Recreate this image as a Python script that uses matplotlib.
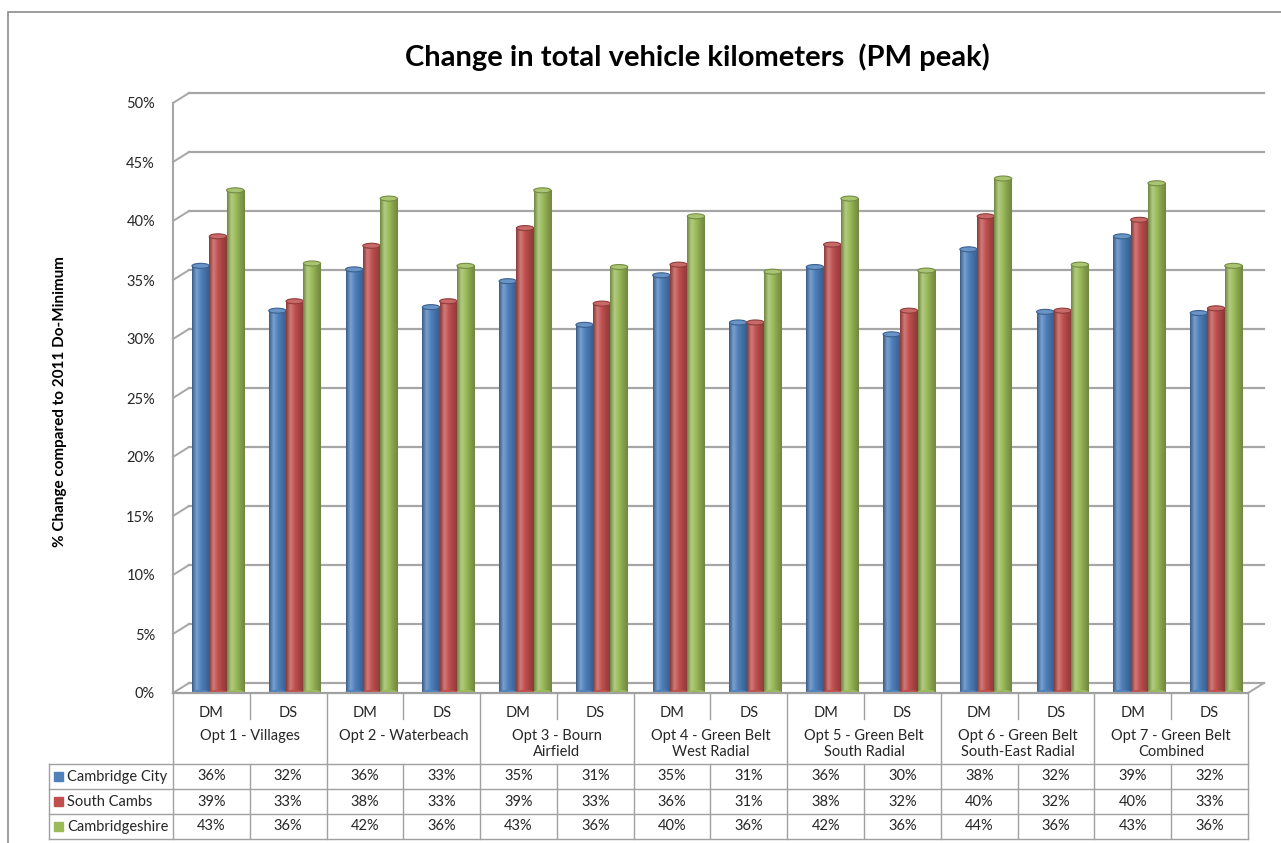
import numpy as np
import matplotlib
matplotlib.use("Agg")
import matplotlib.pyplot as plt
from matplotlib.colors import LinearSegmentedColormap, to_rgb
from matplotlib.patches import Ellipse, Rectangle

# ---- data ----
options = ["Opt 1 - Villages", "Opt 2 - Waterbeach", "Opt 3 - Bourn\nAirfield",
           "Opt 4 - Green Belt\nWest Radial", "Opt 5 - Green Belt\nSouth Radial",
           "Opt 6 - Green Belt\nSouth-East Radial", "Opt 7 - Green Belt\nCombined"]
scenarios = ["DM", "DS"]
series_names = ["Cambridge City", "South Cambs", "Cambridgeshire"]
cambridge_city = [36.2, 32.4, 35.9, 32.7, 34.9, 31.2, 35.4, 31.4, 36.1, 30.4, 37.6, 32.3, 38.7, 32.2]
south_cambs = [38.7, 33.2, 37.9, 33.2, 39.4, 33.0, 36.3, 31.4, 38.0, 32.4, 40.4, 32.4, 40.1, 32.6]
cambridgeshire = [42.6, 36.4, 41.9, 36.2, 42.6, 36.1, 40.4, 35.7, 41.9, 35.8, 43.6, 36.3, 43.2, 36.2]
colors = ["#4F81BD", "#C0504D", "#9BBB59"]
yticks = list(range(0, 51, 5))

plt.rcParams["font.family"] = ["Lato", "DejaVu Sans"]
W, H = 1281, 843
TXT = "#262626"
GRID = "#A6A6A6"


def px_rect(l, t, r, b):
    return [l / W, 1 - b / H, (r - l) / W, (b - t) / H]


def shade(base):
    c = np.array(to_rgb(base))
    dark = c * 0.72
    light = np.clip(c + (1 - c) * 0.25, 0, 1)
    return LinearSegmentedColormap.from_list("cyl", [dark, light, c, c * 0.85, dark])


fig = plt.figure(figsize=(W / 100, H / 100), dpi=100)

# outer frame
fig.add_artist(Rectangle((8 / W, -0.1), 1.2, 1 - 12 / H + 0.1, transform=fig.transFigure,
                         fill=False, edgecolor="#8C8C8C", lw=1.2))

fig.text(697 / W, 1 - 57 / H, "Change in total vehicle kilometers  (PM peak)",
         ha="center", va="center", fontsize=21, fontweight="bold", color="black")
fig.text(60 / W, 1 - 402 / H, "% Change compared to 2011 Do-Minimum", rotation=90,
         ha="center", va="center", fontsize=11, fontweight="bold", color="black")

ax = fig.add_axes(px_rect(173, 103, 1248, 693))
ncol = len(options) * len(scenarios)
ax.set_xlim(0, ncol)
ax.set_ylim(0, 50)
for s in ["top", "right", "bottom"]:
    ax.spines[s].set_visible(False)
ax.spines["left"].set_color(GRID)
ax.spines["left"].set_linewidth(1.5)
ax.set_xticks([])
ax.set_yticks(yticks)
ax.set_yticklabels([f"{v}%" for v in yticks], fontsize=10.5, color=TXT)
ax.tick_params(axis="y", length=0, pad=13)

# back wall (3-D look)
dx = 16 / 76.8
dy = 10 / 11.8
for v in yticks:
    ax.plot([dx, ncol + dx], [v + dy, v + dy], color=GRID, lw=1.6, clip_on=False, zorder=1)
    ax.plot([0, dx], [v, v + dy], color=GRID, lw=1.4, clip_on=False, zorder=1)
ax.plot([ncol, ncol + dx], [0, dy], color=GRID, lw=1.4, clip_on=False, zorder=1)

bw = 17.3 / 76.8
shift = 0.085
x = np.arange(ncol) + 0.5 + shift
ell_h = 5 / 11.8
for k, vals in enumerate([cambridge_city, south_cambs, cambridgeshire]):
    cm = shade(colors[k])
    bars = ax.bar(x + (k - 1) * bw, vals, width=bw, color=colors[k], zorder=3 + k)
    grad = np.linspace(0, 1, 64).reshape(1, -1)
    for b in bars:
        x0, w, h = b.get_x(), b.get_width(), b.get_height()
        ax.imshow(grad, cmap=cm, extent=[x0, x0 + w, 0, h], aspect="auto",
                  zorder=3 + k, interpolation="bilinear")
        ax.add_patch(Ellipse((x0 + w / 2, 0), w, ell_h, color=cm(0.5), zorder=3 + k))
        top = np.array(to_rgb(colors[k]))
        ax.add_patch(Ellipse((x0 + w / 2, h), w, ell_h,
                             facecolor=np.clip(top + (1 - top) * 0.15, 0, 1),
                             edgecolor=top * 0.75, lw=0.8, zorder=3 + k))
ax.set_xlim(0, ncol)
ax.set_ylim(0, 50)

# ---- data table ----
lw_ = -124 / 76.8
tx = fig.add_axes(px_rect(49, 693, 1248, 840))
tx.set_xlim(lw_, ncol)
tx.set_ylim(147, 0)
tx.axis("off")
LC = "#A0A0A0"
tx.plot([0, ncol], [0, 0], color=LC, lw=1.6, clip_on=False)
for j in range(ncol + 1):
    if j % 2 == 0:
        tx.plot([j, j], [0, 146], color=LC, lw=1, clip_on=False)
    else:
        tx.plot([j, j], [0, 26], color=LC, lw=1)
        tx.plot([j, j], [71, 146], color=LC, lw=1)
for yy in [71, 96, 121, 146]:
    tx.plot([lw_, ncol], [yy, yy], color=LC, lw=1, clip_on=False)
tx.plot([lw_, lw_], [71, 146], color=LC, lw=1, clip_on=False)

fs = 10.5
for j in range(ncol):
    tx.text(j + 0.5, 20, scenarios[j % 2], ha="center", va="center", fontsize=fs, color=TXT)
for i, name in enumerate(options):
    tx.text(2 * i + 1, 36, name, ha="center", va="top", fontsize=fs, color=TXT,
            linespacing=1.15)
for k, vals in enumerate([cambridge_city, south_cambs, cambridgeshire]):
    yc = 83.5 + 25 * k
    tx.add_patch(Rectangle((lw_ + 5 / 76.8, yc - 4.5), 9 / 76.8, 9, color=colors[k]))
    tx.text(lw_ + 18 / 76.8, yc, series_names[k], ha="left", va="center", fontsize=10.5,
            color=TXT)
    for j, v in enumerate(vals):
        tx.text(j + 0.5, yc, f"{round(v)}%", ha="center", va="center", fontsize=fs, color=TXT)

fig.savefig("out.png", dpi=100)
